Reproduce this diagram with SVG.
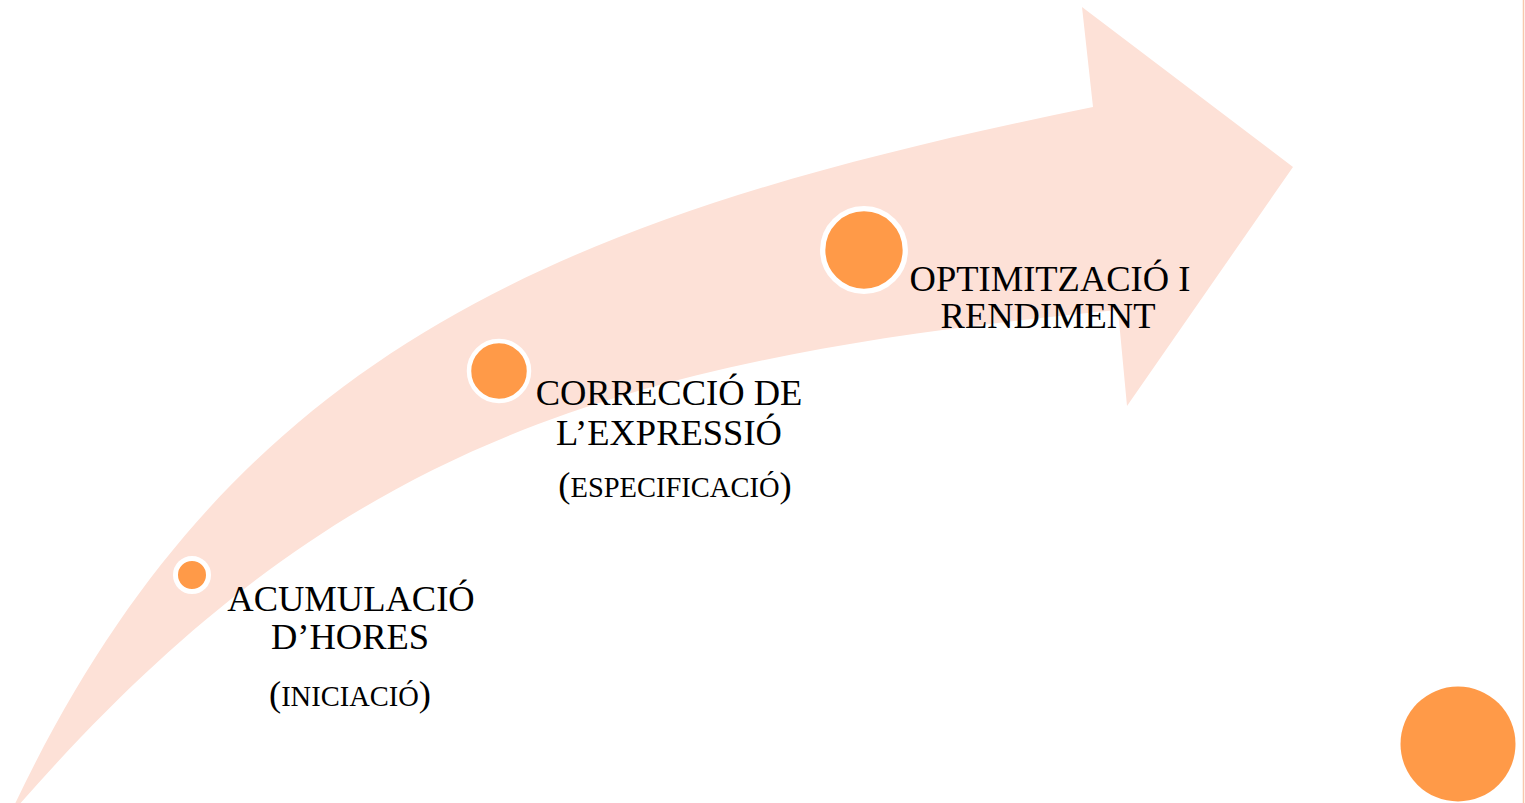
<svg xmlns="http://www.w3.org/2000/svg" width="1525" height="803" viewBox="0 0 1525 803">
<style>
.lbl{font-family:"Liberation Serif","Times New Roman",serif;font-size:36.5px;fill:#000;text-anchor:middle}
.sc{font-size:28.5px}
.dot{fill:#FF9A48;stroke:#FFFFFF}
</style>
<rect x="0" y="0" width="1525" height="803" fill="#FFFFFF"/>
<line x1="1523.5" y1="0" x2="1523.5" y2="803" stroke="#F8C7AC" stroke-width="1.5"/>
<g id="arrow">
<path d="M 14 806 C 230 350 560 215 1093 107 L 1082 7 L 1293 167 L 1127 406 L 1118 310 C 600 360 330 450 18 806 Z" fill="#FDE1D7"/>
</g>
<g id="connectors"></g>
<g id="node1">
<circle class="dot" cx="192" cy="575" r="16.5" stroke-width="5"/>
<text class="lbl" x="351" y="611">ACUMULACIÓ</text>
<text class="lbl" x="350" y="649">D’HORES</text>
<text class="lbl" x="350" y="706">(<tspan class="sc">INICIACIÓ</tspan>)</text>
</g>
<g id="node2">
<circle class="dot" cx="499" cy="371" r="30" stroke-width="4.5"/>
<text class="lbl" x="669" y="405">CORRECCIÓ DE</text>
<text class="lbl" x="669" y="445">L’EXPRESSIÓ</text>
<text class="lbl" x="675" y="497">(<tspan class="sc">ESPECIFICACIÓ</tspan>)</text>
</g>
<g id="node3">
<circle class="dot" cx="864" cy="250" r="41.3" stroke-width="5.3"/>
<text class="lbl" x="1050" y="291">OPTIMITZACIÓ I</text>
<text class="lbl" x="1048" y="328">RENDIMENT</text>
</g>
<g id="corner">
<circle cx="1458" cy="744" r="57.5" fill="#FF9A48"/>
</g>
</svg>
